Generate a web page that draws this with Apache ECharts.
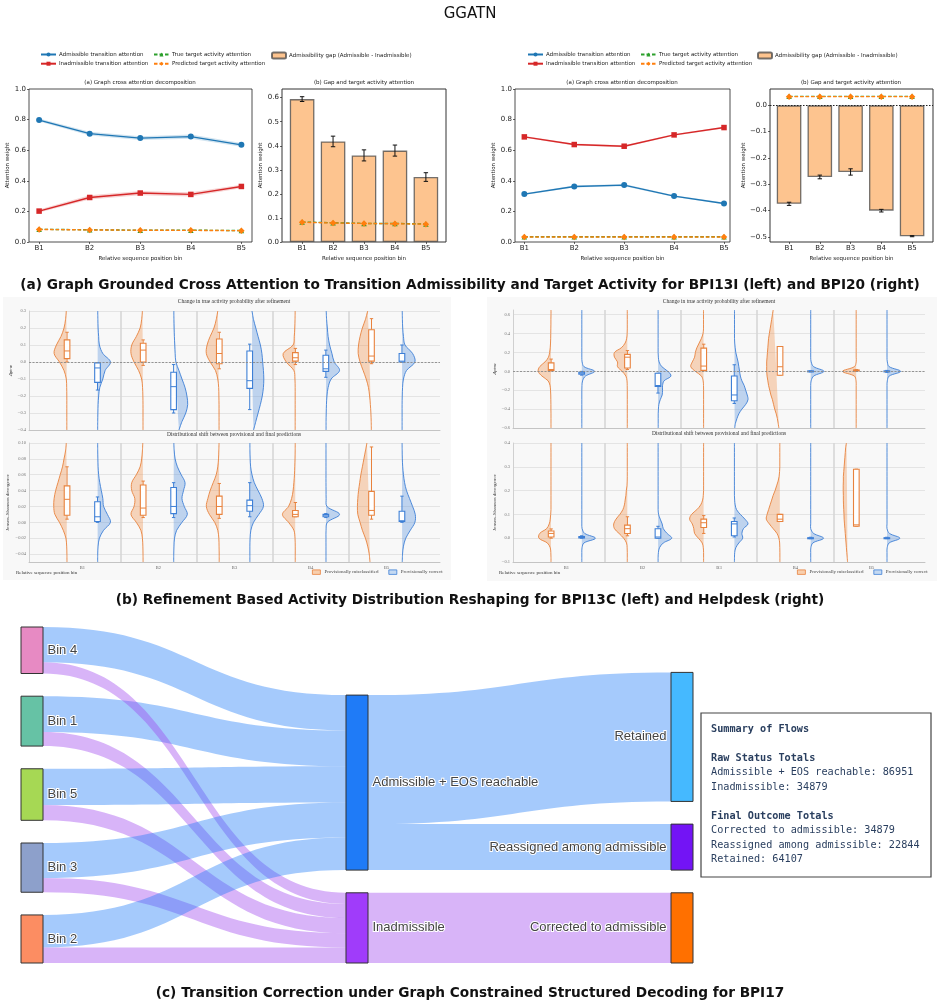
<!DOCTYPE html>
<html lang="en">
<head>
    <meta charset="UTF-8">
    <title>GGATN</title>
    <style>
        html, body {margin: 0; padding: 0; background: #fff;}
        #main {width: 939px; height: 1007px;}
    </style>
</head>
<body>
<div id="main"></div>
<script src="https://cdn.jsdelivr.net/npm/echarts@6/dist/echarts.min.js"></script>
<script>
    const SANS  = 'DejaVu Sans';
    const SERIF = 'Liberation Serif';

    // ---------- (a) attention, BPI13I (left) and BPI20 (right)
    const binLabels    = ['B1', 'B2', 'B3', 'B4', 'B5'];
    const i13Adm       = [0.797, 0.708, 0.679, 0.689, 0.635];
    const i13AdmBand   = [0.010, 0.012, 0.012, 0.014, 0.012];
    const i13Inadm     = [0.202, 0.291, 0.320, 0.311, 0.363];
    const i13InadmBand = [0.010, 0.014, 0.014, 0.014, 0.012];
    const i13TrueTgt   = [0.083, 0.080, 0.077, 0.077, 0.075];
    const i13PredTgt   = [0.082, 0.079, 0.077, 0.076, 0.074];
    const i13Gap       = [0.594, 0.418, 0.360, 0.380, 0.270];
    const i13GapErr    = [0.010, 0.022, 0.023, 0.023, 0.018];

    const b20Adm       = [0.313, 0.363, 0.372, 0.300, 0.252];
    const b20AdmBand   = [0.006, 0.007, 0.007, 0.006, 0.006];
    const b20Inadm     = [0.687, 0.637, 0.626, 0.700, 0.748];
    const b20InadmBand = [0.006, 0.007, 0.007, 0.006, 0.006];
    const b20TrueTgt   = [0.034, 0.034, 0.034, 0.034, 0.034];
    const b20PredTgt   = [0.033, 0.033, 0.033, 0.033, 0.033];
    const b20Gap       = [-0.374, -0.272, -0.253, -0.400, -0.497];
    const b20GapErr    = [0.006, 0.007, 0.012, 0.005, 0.002];

    const lineTicks   = [0, 0.2, 0.4, 0.6, 0.8, 1.0];
    const i13GapTicks = [0, 0.1, 0.2, 0.3, 0.4, 0.5, 0.6];
    const b20GapTicks = [-0.5, -0.4, -0.3, -0.2, -0.1, 0];

    // ---------- (b) violins, BPI13C (left) and Helpdesk (right)
    // density half-widths (x units) at each level, one row per bin; boxes = [low, q1, median, q3, high]
    const c13DpLevels = [0.3, 0.25, 0.2, 0.15, 0.1, 0.05, 0, -0.05, -0.1, -0.15, -0.2, -0.25, -0.3, -0.35, -0.4];
    const c13DpMis = [
        [0.01, 0.02, 0.04, 0.08, 0.14, 0.17, 0.10, 0.04, 0.01, 0.005, 0.003, 0.003, 0.003, 0.003, 0.003],
        [0.01, 0.02, 0.04, 0.09, 0.15, 0.16, 0.12, 0.06, 0.02, 0.008, 0.004, 0.002, 0.002, 0.002, 0.002],
        [0.02, 0.04, 0.07, 0.12, 0.16, 0.17, 0.12, 0.05, 0.02, 0.008, 0.005, 0.003, 0.003, 0.003, 0.003],
        [0.003, 0.005, 0.008, 0.015, 0.03, 0.16, 0.12, 0.02, 0.006, 0.003, 0.003, 0.003, 0.003, 0.003, 0.003],
        [0.05, 0.08, 0.12, 0.15, 0.17, 0.175, 0.15, 0.11, 0.07, 0.04, 0.025, 0.015, 0.008, 0.004, 0.002]
    ];
    const c13DpCor = [
        [0.003, 0.005, 0.008, 0.015, 0.025, 0.07, 0.17, 0.10, 0.07, 0.03, 0.015, 0.008, 0.005, 0.003, 0.002],
        [0.003, 0.004, 0.006, 0.01, 0.015, 0.02, 0.03, 0.07, 0.11, 0.15, 0.175, 0.185, 0.16, 0.11, 0.07],
        [0.03, 0.05, 0.08, 0.11, 0.14, 0.16, 0.17, 0.18, 0.185, 0.18, 0.165, 0.14, 0.11, 0.08, 0.05],
        [0.005, 0.01, 0.02, 0.03, 0.05, 0.08, 0.11, 0.18, 0.07, 0.03, 0.015, 0.008, 0.005, 0.003, 0.003],
        [0.004, 0.006, 0.01, 0.02, 0.04, 0.14, 0.17, 0.06, 0.02, 0.008, 0.004, 0.002, 0.002, 0.002, 0.002]
    ];
    const c13DpMisBox = [[0.0, 0.02, 0.065, 0.13, 0.175], [-0.02, 0.0, 0.07, 0.11, 0.13], [-0.04, -0.01, 0.05, 0.135, 0.175],
                         [-0.015, 0.005, 0.025, 0.055, 0.08], [-0.01, 0.005, 0.035, 0.19, 0.255]];
    const c13DpCorBox = [[-0.165, -0.12, -0.035, -0.005, -0.005], [-0.3, -0.28, -0.145, -0.06, -0.015], [-0.28, -0.155, -0.11, 0.065, 0.105],
                         [-0.09, -0.055, -0.04, 0.04, 0.07], [0.0, 0.0, 0.005, 0.05, 0.1]];

    const c13JsLevels = [0.10, 0.09, 0.08, 0.07, 0.06, 0.05, 0.04, 0.03, 0.02, 0.01, 0, -0.01, -0.02, -0.03, -0.04, -0.05];
    const c13JsMis = [
        [0.01, 0.02, 0.04, 0.06, 0.09, 0.12, 0.15, 0.17, 0.175, 0.16, 0.10, 0.05, 0.015, 0.005, 0.002, 0.001],
        [0.005, 0.01, 0.02, 0.04, 0.09, 0.15, 0.15, 0.11, 0.12, 0.16, 0.09, 0.03, 0.01, 0.004, 0.002, 0.001],
        [0.003, 0.006, 0.01, 0.02, 0.04, 0.08, 0.12, 0.15, 0.17, 0.13, 0.06, 0.02, 0.006, 0.003, 0.001, 0.001],
        [0.002, 0.003, 0.005, 0.008, 0.012, 0.02, 0.03, 0.05, 0.09, 0.17, 0.09, 0.02, 0.005, 0.002, 0.002, 0.002],
        [0.06, 0.08, 0.10, 0.12, 0.14, 0.155, 0.17, 0.18, 0.185, 0.18, 0.15, 0.12, 0.08, 0.05, 0.03, 0.02]
    ];
    const c13JsCor = [
        [0.002, 0.003, 0.005, 0.008, 0.015, 0.03, 0.05, 0.07, 0.08, 0.13, 0.17, 0.08, 0.025, 0.008, 0.003, 0.002],
        [0.003, 0.008, 0.02, 0.05, 0.10, 0.15, 0.13, 0.11, 0.14, 0.18, 0.11, 0.04, 0.012, 0.005, 0.002, 0.001],
        [0.002, 0.003, 0.006, 0.012, 0.03, 0.06, 0.11, 0.16, 0.18, 0.12, 0.05, 0.015, 0.005, 0.002, 0.002, 0.002],
        [0.002, 0.002, 0.002, 0.002, 0.002, 0.002, 0.003, 0.004, 0.015, 0.18, 0.02, 0.003, 0.002, 0.002, 0.002, 0.002],
        [0.002, 0.003, 0.005, 0.01, 0.02, 0.035, 0.06, 0.10, 0.14, 0.175, 0.17, 0.11, 0.05, 0.02, 0.008, 0.004]
    ];
    const c13JsMisBox = [[0.004, 0.009, 0.029, 0.046, 0.07], [0.006, 0.009, 0.018, 0.047, 0.052], [0.005, 0.010, 0.020, 0.033, 0.049],
                         [0.007, 0.007, 0.010, 0.015, 0.025], [0.004, 0.009, 0.015, 0.039, 0.095]];
    const c13JsCorBox = [[0.0, 0.001, 0.007, 0.026, 0.032], [0.006, 0.011, 0.020, 0.044, 0.050], [0.007, 0.014, 0.021, 0.028, 0.050],
                         [0.006, 0.007, 0.009, 0.010, 0.011], [0.0, 0.001, 0.002, 0.014, 0.033]];

    const hdDpLevels = [0.65, 0.6, 0.55, 0.5, 0.45, 0.4, 0.35, 0.3, 0.25, 0.2, 0.15, 0.1, 0.05, 0,
                        -0.05, -0.1, -0.15, -0.2, -0.25, -0.3, -0.35, -0.4, -0.45, -0.5, -0.55, -0.6];
    const hdDpMis = [
        [0.002, 0.002, 0.003, 0.003, 0.004, 0.005, 0.006, 0.008, 0.012, 0.02, 0.035, 0.08, 0.15, 0.17, 0.12, 0.04, 0.015, 0.008, 0.005, 0.004, 0.003, 0.003, 0.002, 0.002, 0.002, 0.002],
        [0.002, 0.002, 0.002, 0.002, 0.002, 0.004, 0.01, 0.03, 0.08, 0.17, 0.17, 0.13, 0.13, 0.07, 0.02, 0.006, 0.003, 0.002, 0.002, 0.002, 0.002, 0.002, 0.002, 0.002, 0.002, 0.002],
        [0.003, 0.003, 0.003, 0.003, 0.003, 0.01, 0.03, 0.06, 0.09, 0.11, 0.12, 0.15, 0.17, 0.11, 0.03, 0.008, 0.003, 0.002, 0.002, 0.002, 0.002, 0.002, 0.002, 0.002, 0.002, 0.002],
        [0.09, 0.10, 0.11, 0.12, 0.13, 0.14, 0.15, 0.155, 0.16, 0.165, 0.17, 0.175, 0.175, 0.175, 0.17, 0.16, 0.15, 0.135, 0.12, 0.10, 0.085, 0.07, 0.05, 0.035, 0.025, 0.015],
        [0.002, 0.002, 0.002, 0.002, 0.002, 0.002, 0.002, 0.002, 0.002, 0.002, 0.002, 0.002, 0.025, 0.18, 0.025, 0.004, 0.002, 0.002, 0.002, 0.002, 0.002, 0.002, 0.002, 0.002, 0.002, 0.002]
    ];
    const hdDpCor = [
        [0.002, 0.002, 0.002, 0.002, 0.002, 0.002, 0.002, 0.002, 0.002, 0.002, 0.002, 0.006, 0.03, 0.17, 0.05, 0.012, 0.004, 0.002, 0.002, 0.002, 0.002, 0.002, 0.002, 0.002, 0.002, 0.002],
        [0.002, 0.002, 0.002, 0.002, 0.002, 0.002, 0.002, 0.002, 0.002, 0.002, 0.005, 0.015, 0.05, 0.13, 0.17, 0.08, 0.06, 0.06, 0.055, 0.03, 0.012, 0.006, 0.003, 0.003, 0.003, 0.003],
        [0.003, 0.003, 0.003, 0.003, 0.003, 0.003, 0.003, 0.006, 0.012, 0.02, 0.035, 0.05, 0.06, 0.07, 0.08, 0.10, 0.13, 0.15, 0.17, 0.18, 0.15, 0.10, 0.06, 0.035, 0.015, 0.006],
        [0.002, 0.002, 0.002, 0.002, 0.002, 0.002, 0.002, 0.002, 0.002, 0.002, 0.002, 0.008, 0.04, 0.175, 0.04, 0.008, 0.002, 0.002, 0.002, 0.002, 0.002, 0.002, 0.002, 0.002, 0.002, 0.002],
        [0.002, 0.002, 0.002, 0.002, 0.002, 0.002, 0.002, 0.002, 0.002, 0.002, 0.002, 0.006, 0.03, 0.18, 0.03, 0.006, 0.002, 0.002, 0.002, 0.002, 0.002, 0.002, 0.002, 0.002, 0.002, 0.002]
    ];
    const hdDpMisBox = [[0.005, 0.01, 0.02, 0.09, 0.13], [0.02, 0.035, 0.15, 0.18, 0.22], [0.005, 0.01, 0.056, 0.246, 0.288],
                        [-0.042, -0.042, 0.049, 0.263, 0.263], [0.0, 0.005, 0.01, 0.015, 0.02]];
    const hdDpCorBox = [[-0.04, -0.03, -0.02, -0.01, 0.0], [-0.23, -0.161, -0.15, -0.02, -0.02], [-0.34, -0.312, -0.25, -0.049, 0.07],
                        [-0.005, -0.005, 0.0, 0.005, 0.005], [-0.01, -0.005, 0.0, 0.005, 0.01]];

    const hdJsLevels = [0.4, 0.38, 0.36, 0.34, 0.32, 0.3, 0.28, 0.26, 0.24, 0.22, 0.2, 0.18, 0.16, 0.14, 0.12,
                        0.1, 0.08, 0.06, 0.04, 0.02, 0, -0.02, -0.04, -0.06, -0.08, -0.1];
    const hdJsMis = [
        [0.002, 0.002, 0.002, 0.002, 0.002, 0.002, 0.002, 0.002, 0.002, 0.002, 0.002, 0.002, 0.002, 0.002, 0.002, 0.006, 0.012, 0.025, 0.06, 0.15, 0.16, 0.05, 0.012, 0.004, 0.002, 0.002],
        [0.002, 0.002, 0.002, 0.002, 0.002, 0.002, 0.002, 0.002, 0.003, 0.006, 0.015, 0.02, 0.03, 0.04, 0.06, 0.10, 0.15, 0.18, 0.17, 0.11, 0.05, 0.012, 0.004, 0.002, 0.002, 0.002],
        [0.002, 0.002, 0.002, 0.002, 0.002, 0.002, 0.002, 0.002, 0.002, 0.002, 0.002, 0.006, 0.015, 0.04, 0.09, 0.16, 0.185, 0.15, 0.13, 0.12, 0.07, 0.02, 0.006, 0.002, 0.002, 0.002],
        [0.003, 0.003, 0.003, 0.003, 0.003, 0.003, 0.006, 0.012, 0.025, 0.045, 0.065, 0.09, 0.11, 0.13, 0.15, 0.17, 0.18, 0.14, 0.09, 0.04, 0.015, 0.005, 0.003, 0.002, 0.002, 0.002],
        [0.13, 0.14, 0.145, 0.15, 0.155, 0.16, 0.165, 0.17, 0.17, 0.172, 0.172, 0.17, 0.17, 0.168, 0.165, 0.162, 0.16, 0.155, 0.15, 0.145, 0.14, 0.135, 0.13, 0.125, 0.12, 0.115]
    ];
    const hdJsCor = [
        [0.002, 0.002, 0.002, 0.002, 0.002, 0.002, 0.002, 0.002, 0.002, 0.002, 0.002, 0.002, 0.002, 0.002, 0.002, 0.002, 0.002, 0.002, 0.006, 0.04, 0.18, 0.03, 0.005, 0.002, 0.002, 0.002],
        [0.002, 0.002, 0.002, 0.002, 0.002, 0.002, 0.002, 0.002, 0.002, 0.002, 0.002, 0.002, 0.002, 0.002, 0.002, 0.008, 0.03, 0.055, 0.07, 0.12, 0.18, 0.07, 0.02, 0.006, 0.002, 0.002],
        [0.002, 0.002, 0.002, 0.002, 0.002, 0.002, 0.002, 0.002, 0.002, 0.002, 0.002, 0.002, 0.005, 0.012, 0.03, 0.08, 0.14, 0.18, 0.12, 0.10, 0.11, 0.06, 0.02, 0.006, 0.003, 0.002],
        [0.002, 0.002, 0.002, 0.002, 0.002, 0.002, 0.002, 0.002, 0.002, 0.002, 0.002, 0.002, 0.002, 0.002, 0.002, 0.002, 0.002, 0.002, 0.002, 0.04, 0.17, 0.03, 0.004, 0.002, 0.002, 0.002],
        [0.002, 0.002, 0.002, 0.002, 0.002, 0.002, 0.002, 0.002, 0.002, 0.002, 0.002, 0.002, 0.002, 0.002, 0.002, 0.002, 0.002, 0.002, 0.002, 0.035, 0.17, 0.03, 0.004, 0.002, 0.002, 0.002]
    ];
    const hdJsMisBox = [[0.0, 0.005, 0.02, 0.03, 0.039], [0.01, 0.02, 0.04, 0.055, 0.09], [0.02, 0.045, 0.065, 0.08, 0.095],
                        [0.07, 0.07, 0.08, 0.1, 0.1], [0.05, 0.05, 0.056, 0.29, 0.29]];
    const hdJsCorBox = [[0.0, 0.001, 0.003, 0.007, 0.01], [0.0, 0.0, 0.005, 0.04, 0.05], [0.005, 0.01, 0.06, 0.07, 0.085],
                        [-0.002, 0.0, 0.0, 0.002, 0.004], [-0.002, 0.0, 0.0, 0.002, 0.004]];

    const violinSeparators = [1.5, 2.5, 3.5, 4.5];

    // ---------- (c) sankey, BPI17
    const binNames          = ['Bin 1', 'Bin 4', 'Bin 5', 'Bin 3', 'Bin 2'];
    const binColors         = ['#66c2a5', '#e78ac3', '#a6d854', '#8da0cb', '#fc8d62'];
    const binToAdmissible   = [17735, 17570, 18060, 17420, 16166];
    const binToInadmissible = [7043, 5534, 7546, 7043, 7713];
    const statusNames       = ['Admissible + EOS reachable', 'Inadmissible'];
    const statusColors      = ['#1f7bf7', '#a03cfa'];
    const outcomeNames      = ['Retained', 'Reassigned among admissible', 'Corrected to admissible'];
    const outcomeColors     = ['#45b9ff', '#7314f5', '#ff7000'];
    const outcomeValues     = [64107, 22844, 34879];

    const chart = echarts.init(document.getElementById('main'));

    function fmt1(v) {
        return (v < -1e-9 ? '\u2212' : '') + Math.abs(v).toFixed(1);
    }

    function fmt2(v) {
        return (v < -1e-9 ? '\u2212' : '') + Math.abs(v).toFixed(2);
    }

    function attnX(grid, min, max) {
        return {
            type: 'value', gridIndex: grid, min: min, max: max,
            name: 'Relative sequence position bin', nameLocation: 'middle', nameGap: 14,
            nameTextStyle: {fontFamily: SANS, fontSize: 5.5, color: '#222'},
            axisLine: {show: false, onZero: false}, splitLine: {show: false},
            axisTick: {show: true, length: 2, customValues: [0, 1, 2, 3, 4], lineStyle: {color: '#222', width: 0.7}},
            axisLabel: {
                customValues: [0, 1, 2, 3, 4], margin: 3, fontFamily: SANS, fontSize: 7, color: '#222',
                formatter: function (v) { return binLabels[Math.round(v)]; }
            }
        };
    }

    function attnY(grid, min, max, ticks, gap) {
        return {
            type: 'value', gridIndex: grid, min: min, max: max,
            name: 'Attention weight', nameLocation: 'middle', nameGap: gap,
            nameTextStyle: {fontFamily: SANS, fontSize: 5.5, color: '#222'},
            axisLine: {show: false, onZero: false}, splitLine: {show: false},
            axisTick: {show: true, length: 2, customValues: ticks, lineStyle: {color: '#222', width: 0.7}},
            axisLabel: {customValues: ticks, margin: 3, fontFamily: SANS, fontSize: 7, color: '#222', formatter: fmt1}
        };
    }

    function violinX(grid, showLabels) {
        return {
            type: 'value', gridIndex: grid, min: 0.3, max: 5.7,
            axisLine: {show: true, onZero: false, lineStyle: {color: '#c4c4c4', width: 1}},
            axisTick: {show: false}, splitLine: {show: false},
            axisLabel: {
                show: showLabels, customValues: [1, 2, 3, 4, 5], margin: 3,
                fontFamily: SERIF, fontSize: 4.5, color: '#666',
                formatter: function (v) { return binLabels[Math.round(v) - 1]; }
            }
        };
    }

    function violinY(grid, min, max, ticks, fmt, name, gap) {
        return {
            type: 'value', gridIndex: grid, min: min, max: max,
            name: name, nameLocation: 'middle', nameGap: gap,
            nameTextStyle: {
                fontFamily: SERIF, fontSize: 5, color: '#333',
                rich: {d: {fontFamily: SERIF, fontSize: 5, color: '#333', fontStyle: 'italic'},
                       s: {fontFamily: SERIF, fontSize: 3.6, color: '#333', fontStyle: 'italic', verticalAlign: 'bottom'}}
            },
            axisLine: {show: true, onZero: false, lineStyle: {color: '#d0d0d0', width: 1}},
            axisTick: {show: false, customValues: ticks},
            splitLine: {show: true, lineStyle: {color: '#e4e4e4', width: 1}},
            axisLabel: {customValues: ticks, margin: 3, fontFamily: SERIF, fontSize: 4.5, color: '#777', formatter: fmt}
        };
    }

    function bandSeries(grid, vals, half, color) {
        return {
            type: 'custom', xAxisIndex: grid, yAxisIndex: grid, silent: true, z: 1, data: [0],
            renderItem: function (params, api) {
                const up = vals.map(function (v, i) { return api.coord([i, v + half[i]]); });
                const dn = vals.map(function (v, i) { return api.coord([i, v - half[i]]); }).reverse();
                return {type: 'polygon', shape: {points: up.concat(dn)}, style: {fill: color, opacity: 0.2}};
            }
        };
    }

    function lineSeries(name, grid, vals, color, symbol, dashed, size, z) {
        return {
            name: name, type: 'line', xAxisIndex: grid, yAxisIndex: grid, z: z,
            data: vals.map(function (v, i) { return [i, v]; }),
            symbol: symbol, symbolSize: size, showSymbol: true, silent: true,
            itemStyle: {color: color},
            lineStyle: {color: color, width: 1.4, type: dashed ? [3.5, 2] : 'solid'}
        };
    }

    function gapBars(grid, vals) {
        return {
            name: 'Admissibility gap (Admissible - Inadmissible)', type: 'bar', xAxisIndex: grid, yAxisIndex: grid,
            data: vals.map(function (v, i) { return [i, v]; }), barWidth: 24.6, silent: true, z: 2,
            itemStyle: {color: '#fdc48f', borderColor: 'rgba(70,70,70,0.75)', borderWidth: 1.3}
        };
    }

    function errSeries(grid, vals, errs) {
        return {
            type: 'custom', xAxisIndex: grid, yAxisIndex: grid, silent: true, z: 4,
            data: vals.map(function (v, i) { return [i, v - errs[i], v + errs[i]]; }),
            renderItem: function (params, api) {
                const lo = api.coord([api.value(0), api.value(1)]);
                const hi = api.coord([api.value(0), api.value(2)]);
                const st = {stroke: '#111', lineWidth: 1};
                return {
                    type: 'group', children: [
                        {type: 'line', shape: {x1: lo[0], y1: lo[1], x2: hi[0], y2: hi[1]}, style: st},
                        {type: 'line', shape: {x1: lo[0] - 2.2, y1: lo[1], x2: lo[0] + 2.2, y2: lo[1]}, style: st},
                        {type: 'line', shape: {x1: hi[0] - 2.2, y1: hi[1], x2: hi[0] + 2.2, y2: hi[1]}, style: st}
                    ]
                };
            }
        };
    }

    const MIS_STROKE = '#e8823d', MIS_FILL = 'rgba(240,150,85,0.38)';
    const COR_STROKE = '#3d7fd6', COR_FILL = 'rgba(110,160,225,0.42)';

    function violinSeries(name, grid, levels, widths, boxes, offset, side, stroke, fill) {
        return {
            name: name, type: 'custom', xAxisIndex: grid, yAxisIndex: grid, clip: true, silent: true, z: 3,
            itemStyle: {color: fill, borderColor: stroke},
            data: boxes.map(function (b, i) { return [i + 1 + offset, b[2]]; }),
            renderItem: function (params, api) {
                const i = params.dataIndex, x0 = api.value(0), w = widths[i], b = boxes[i];
                const curve = levels.map(function (y, k) { return api.coord([x0 + side * w[k], y]); });
                const c = function (v) { return api.coord([x0, v]); };
                const hw = api.size([0.037, 0])[0];
                const cw = api.size([0.022, 0])[0];
                const px = c(0)[0];
                const yWl = c(b[0])[1], yQ1 = c(b[1])[1], yMed = c(b[2])[1], yQ3 = c(b[3])[1], yWh = c(b[4])[1];
                const ls = {stroke: stroke, lineWidth: 1, fill: null};
                return {
                    type: 'group', children: [
                        {type: 'polygon', shape: {points: curve, smooth: 0.35}, style: {fill: fill}},
                        {type: 'polyline', shape: {points: curve, smooth: 0.35}, style: {stroke: stroke, lineWidth: 0.9, fill: null}},
                        {type: 'line', shape: {x1: px, y1: yWl, x2: px, y2: yQ1}, style: ls},
                        {type: 'line', shape: {x1: px, y1: yQ3, x2: px, y2: yWh}, style: ls},
                        {type: 'line', shape: {x1: px - cw, y1: yWl, x2: px + cw, y2: yWl}, style: ls},
                        {type: 'line', shape: {x1: px - cw, y1: yWh, x2: px + cw, y2: yWh}, style: ls},
                        {type: 'rect', shape: {x: px - hw, y: yQ3, width: 2 * hw, height: Math.max(yQ1 - yQ3, 1)},
                         style: {fill: '#fff', stroke: stroke, lineWidth: 1.1}},
                        {type: 'line', shape: {x1: px - hw, y1: yMed, x2: px + hw, y2: yMed}, style: ls}
                    ]
                };
            }
        };
    }

    function guideSeries(grid, withZero) {
        const marks = violinSeparators.map(function (x) {
            return {xAxis: x, lineStyle: {color: '#d6d6d6', width: 1.6, type: 'solid'}};
        });
        if (withZero) {
            marks.push({yAxis: 0, lineStyle: {color: '#8a8a8a', width: 0.9, type: [2, 1.5]}});
        }
        return {
            type: 'line', xAxisIndex: grid, yAxisIndex: grid, data: [], silent: true, z: 1,
            markLine: {silent: true, symbol: 'none', label: {show: false}, animation: false, data: marks}
        };
    }

    function violinGroup(grid, levels, misW, misB, corW, corB, withZero) {
        return [
            guideSeries(grid, withZero),
            violinSeries('Provisionally misclassified', grid, levels, misW, misB, -0.2, -1, MIS_STROKE, MIS_FILL),
            violinSeries('Provisionally correct', grid, levels, corW, corB, 0.2, 1, COR_STROKE, COR_FILL)
        ];
    }

    // sankey nodes / links
    const sankeyNodes = [];
    binNames.forEach(function (n, i) {
        sankeyNodes.push({name: n, itemStyle: {color: binColors[i]}, label: {position: 'right'}});
    });
    statusNames.forEach(function (n, i) {
        sankeyNodes.push({name: n, itemStyle: {color: statusColors[i]}, label: {position: 'right'}});
    });
    outcomeNames.forEach(function (n, i) {
        sankeyNodes.push({name: n, itemStyle: {color: outcomeColors[i]}, label: {position: 'left'}});
    });
    const ADM_LINK   = {color: 'rgb(31,123,247)', opacity: 0.4};
    const INADM_LINK = {color: 'rgb(157,67,237)', opacity: 0.4};
    const sankeyLinks = [];
    binNames.forEach(function (n, i) {
        sankeyLinks.push({source: n, target: statusNames[0], value: binToAdmissible[i], lineStyle: ADM_LINK});
        sankeyLinks.push({source: n, target: statusNames[1], value: binToInadmissible[i], lineStyle: INADM_LINK});
    });
    sankeyLinks.push({source: statusNames[0], target: outcomeNames[0], value: outcomeValues[0], lineStyle: ADM_LINK});
    sankeyLinks.push({source: statusNames[0], target: outcomeNames[1], value: outcomeValues[1], lineStyle: ADM_LINK});
    sankeyLinks.push({source: statusNames[1], target: outcomeNames[2], value: outcomeValues[2], lineStyle: INADM_LINK});

    const sum = function (a) { return a.reduce(function (s, v) { return s + v; }, 0); };
    const summaryLines = [
        ['Summary of Flows', true], null,
        ['Raw Status Totals', true],
        [statusNames[0] + ': ' + sum(binToAdmissible), false],
        [statusNames[1] + ': ' + sum(binToInadmissible), false], null,
        ['Final Outcome Totals', true],
        [outcomeNames[2] + ': ' + outcomeValues[2], false],
        [outcomeNames[1] + ': ' + outcomeValues[1], false],
        [outcomeNames[0] + ': ' + outcomeValues[0], false]
    ];

    const graphics = [
        {type: 'rect', silent: true, z: -10, shape: {x: 3, y: 297, width: 448, height: 283}, style: {fill: '#f8f8f8'}},
        {type: 'rect', silent: true, z: -10, shape: {x: 487, y: 297, width: 450, height: 284}, style: {fill: '#f8f8f8'}}
    ];

    function addText(x, y, text, font, size, weight, color, align) {
        graphics.push({
            type: 'text', silent: true, x: x, y: y,
            style: {text: text, fontFamily: font, fontSize: size, fontWeight: weight || 'normal',
                    fill: color || '#222', align: align || 'center', verticalAlign: 'middle'}
        });
    }

    addText(470, 14, 'GGATN', SANS, 15, 'normal', '#111');
    addText(140, 83, '(a) Graph cross attention decomposition', SANS, 5.5);
    addText(364, 83, '(b) Gap and target activity attention', SANS, 5.5);
    addText(622, 83, '(a) Graph cross attention decomposition', SANS, 5.5);
    addText(851, 83, '(b) Gap and target activity attention', SANS, 5.5);
    addText(470, 285, '(a) Graph Grounded Cross Attention to Transition Admissibility and Target Activity for BPI13I (left) and BPI20 (right)',
            SANS, 13.7, 'bold', '#111');

    addText(234, 302, 'Change in true activity probability after refinement', SERIF, 5.5, 'normal', '#333');
    addText(234, 435, 'Distributional shift between provisional and final predictions', SERIF, 5.5, 'normal', '#333');
    addText(719, 302, 'Change in true activity probability after refinement', SERIF, 5.5, 'normal', '#333');
    addText(719, 434, 'Distributional shift between provisional and final predictions', SERIF, 5.5, 'normal', '#333');
    addText(16, 573, 'Relative sequence position bin', SERIF, 5, 'normal', '#333', 'left');
    addText(499, 573, 'Relative sequence position bin', SERIF, 5, 'normal', '#333', 'left');
    addText(470, 600, '(b) Refinement Based Activity Distribution Reshaping for BPI13C (left) and Helpdesk (right)',
            SANS, 13.7, 'bold', '#111');

    graphics.push({type: 'rect', silent: true, shape: {x: 701, y: 713, width: 230, height: 164},
                   style: {fill: '#fff', stroke: '#444', lineWidth: 1.2}});
    summaryLines.forEach(function (ln, i) {
        if (!ln) return;
        graphics.push({
            type: 'text', silent: true, x: 711, y: 729 + 14.5 * i,
            style: {text: ln[0], fontFamily: 'DejaVu Sans Mono', fontSize: 10.2, fontWeight: ln[1] ? 'bold' : 'normal',
                    fill: '#2a3f5f', align: 'left', verticalAlign: 'middle'}
        });
    });
    addText(470, 993, '(c) Transition Correction under Graph Constrained Structured Decoding for BPI17',
            SANS, 13.7, 'bold', '#111');

    function attnLegends(x1, x2, x3) {
        const base = {
            orient: 'vertical', top: 51.5, itemWidth: 15, itemHeight: 5, itemGap: 3.2, padding: 0,
            selectedMode: false, textStyle: {fontFamily: SANS, fontSize: 5.5, color: '#222', padding: [0, 0, 0, -2]}
        };
        return [
            Object.assign({}, base, {left: x1, data: ['Admissible transition attention', 'Inadmissible transition attention']}),
            Object.assign({}, base, {left: x2, data: ['True target activity attention', 'Predicted target activity attention']}),
            Object.assign({}, base, {left: x3, itemWidth: 14, itemHeight: 6, data: ['Admissibility gap (Admissible - Inadmissible)']})
        ];
    }

    function violinLegend(x) {
        return {
            left: x, top: 569.5, itemWidth: 8, itemHeight: 4.5, itemGap: 10, padding: 0, selectedMode: false,
            textStyle: {fontFamily: SERIF, fontSize: 5, color: '#444', padding: [0, 0, 0, -1]},
            data: [
                {name: 'Provisionally misclassified', icon: 'rect', itemStyle: {color: '#f8cfae', borderColor: MIS_STROKE, borderWidth: 0.8}},
                {name: 'Provisionally correct', icon: 'rect', itemStyle: {color: '#c4d9f2', borderColor: COR_STROKE, borderWidth: 0.8}}
            ]
        };
    }

    const gridBase = {show: true, containLabel: false, outerBoundsMode: 'none', backgroundColor: 'transparent'};
    const grids = [
        Object.assign({}, gridBase, {left: 29, top: 89, width: 223, height: 153, borderColor: '#222', borderWidth: 0.8}),
        Object.assign({}, gridBase, {left: 282, top: 89, width: 164, height: 153, borderColor: '#333', borderWidth: 1}),
        Object.assign({}, gridBase, {left: 515, top: 89, width: 215, height: 153, borderColor: '#222', borderWidth: 0.8}),
        Object.assign({}, gridBase, {left: 770, top: 89, width: 163, height: 153, borderColor: '#333', borderWidth: 1}),
        Object.assign({}, gridBase, {left: 29, top: 311, width: 411, height: 119, borderWidth: 0}),
        Object.assign({}, gridBase, {left: 29, top: 443, width: 411, height: 119, borderWidth: 0}),
        Object.assign({}, gridBase, {left: 513, top: 310, width: 412, height: 118, borderWidth: 0}),
        Object.assign({}, gridBase, {left: 513, top: 443, width: 412, height: 119, borderWidth: 0})
    ];

    const series = [
        bandSeries(0, i13Adm, i13AdmBand, '#1f77b4'),
        bandSeries(0, i13Inadm, i13InadmBand, '#d62728'),
        lineSeries('Admissible transition attention', 0, i13Adm, '#1f77b4', 'circle', false, 6, 3),
        lineSeries('Inadmissible transition attention', 0, i13Inadm, '#d62728', 'rect', false, 5.5, 3),
        lineSeries('True target activity attention', 0, i13TrueTgt, '#2ca02c', 'triangle', true, 5.5, 3),
        lineSeries('Predicted target activity attention', 0, i13PredTgt, '#ff7f0e', 'diamond', true, 6.5, 4),
        gapBars(1, i13Gap),
        errSeries(1, i13Gap, i13GapErr),
        lineSeries('True target activity attention', 1, i13TrueTgt, '#2ca02c', 'triangle', true, 5.5, 5),
        lineSeries('Predicted target activity attention', 1, i13PredTgt, '#ff7f0e', 'diamond', true, 6.5, 6),

        bandSeries(2, b20Adm, b20AdmBand, '#1f77b4'),
        bandSeries(2, b20Inadm, b20InadmBand, '#d62728'),
        lineSeries('Admissible transition attention', 2, b20Adm, '#1f77b4', 'circle', false, 6, 3),
        lineSeries('Inadmissible transition attention', 2, b20Inadm, '#d62728', 'rect', false, 5.5, 3),
        lineSeries('True target activity attention', 2, b20TrueTgt, '#2ca02c', 'triangle', true, 5.5, 3),
        lineSeries('Predicted target activity attention', 2, b20PredTgt, '#ff7f0e', 'diamond', true, 6.5, 4),
        gapBars(3, b20Gap),
        errSeries(3, b20Gap, b20GapErr),
        {
            type: 'line', xAxisIndex: 3, yAxisIndex: 3, data: [], silent: true, z: 5,
            markLine: {silent: true, symbol: 'none', label: {show: false}, animation: false,
                       data: [{yAxis: 0, lineStyle: {color: '#222', width: 1, type: [1.5, 1.5]}}]}
        },
        lineSeries('True target activity attention', 3, b20TrueTgt, '#2ca02c', 'triangle', true, 5.5, 5),
        lineSeries('Predicted target activity attention', 3, b20PredTgt, '#ff7f0e', 'diamond', true, 6.5, 6)
    ].concat(
        violinGroup(4, c13DpLevels, c13DpMis, c13DpMisBox, c13DpCor, c13DpCorBox, true),
        violinGroup(5, c13JsLevels, c13JsMis, c13JsMisBox, c13JsCor, c13JsCorBox, false),
        violinGroup(6, hdDpLevels, hdDpMis, hdDpMisBox, hdDpCor, hdDpCorBox, true),
        violinGroup(7, hdJsLevels, hdJsMis, hdJsMisBox, hdJsCor, hdJsCorBox, false),
        [{
            type: 'sankey', left: 21, top: 627, width: 672, height: 336,
            nodeWidth: 22, nodeGap: 22.7, draggable: false, silent: true,
            emphasis: {disabled: true},
            data: sankeyNodes, links: sankeyLinks,
            itemStyle: {borderColor: '#333', borderWidth: 1},
            lineStyle: {curveness: 0.5},
            label: {fontFamily: 'Liberation Sans', fontSize: 13, color: '#444', distance: 4,
                    textBorderColor: '#fff', textBorderWidth: 2}
        }]
    );

    const option = {
        animation: false,
        backgroundColor: '#fff',
        legend: attnLegends(40, 153, 271).concat(attnLegends(527, 640, 757), [violinLegend(312), violinLegend(797)]),
        grid: grids,
        xAxis: [
            attnX(0, -0.2, 4.21), attnX(1, -0.65, 4.65), attnX(2, -0.187, 4.12), attnX(3, -0.62, 4.68),
            violinX(4, false), violinX(5, true), violinX(6, false), violinX(7, true)
        ],
        yAxis: [
            attnY(0, 0, 1.0, lineTicks, 18),
            attnY(1, 0, 0.636, i13GapTicks, 18),
            attnY(2, 0, 1.0, lineTicks, 18),
            attnY(3, -0.519, 0.062, b20GapTicks, 22),
            violinY(4, -0.4, 0.3, [-0.4, -0.3, -0.2, -0.1, 0, 0.1, 0.2, 0.3], fmt1, '{d|\u0394p}{s|true}', 16),
            violinY(5, -0.05, 0.10, [-0.04, -0.02, 0, 0.02, 0.04, 0.06, 0.08, 0.10], fmt2, 'Jensen\u2013Shannon divergence', 19),
            violinY(6, -0.6, 0.65, [-0.6, -0.4, -0.2, 0, 0.2, 0.4, 0.6], fmt1, '{d|\u0394p}{s|true}', 16),
            violinY(7, -0.1, 0.4, [-0.1, 0, 0.1, 0.2, 0.3, 0.4], fmt1, 'Jensen\u2013Shannon divergence', 16)
        ],
        graphic: graphics,
        series: series
    };
    chart.setOption(option);
</script>
</body>
</html>
